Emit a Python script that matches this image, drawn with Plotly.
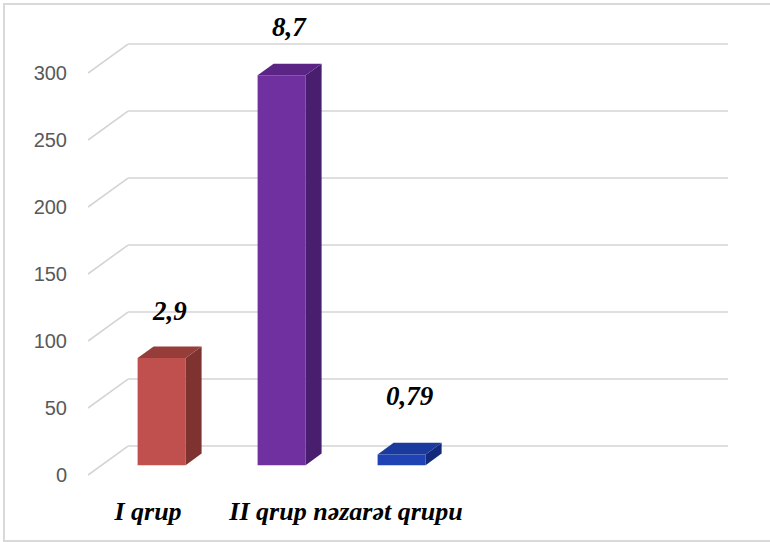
import plotly.graph_objects as go

# --- data ---
categories = ["I qrup", "II qrup", "nəzarət qrupu"]
values = [80, 291, 8]
value_labels = ["2,9", "8,7", "0,79"]
y_ticks = [0, 50, 100, 150, 200, 250, 300]
n_slots = 5

front_colors = ["#c0504d", "#7030a0", "#1f43b5"]
top_colors = ["#963d3a", "#5a2585", "#1a3a9e"]
side_colors = ["#7e3330", "#4a1e6e", "#13297a"]

SERIF = "Liberation Serif, Times New Roman, serif"

# --- pseudo-3D geometry (oblique projection) ---
OX = 1 / 3          # x shift of the back wall, in category units
OY = 21.6           # y shift of the back wall, in value units
D_FRONT = 0.34      # depth of the bar front faces
D_BAR = 0.40        # depth of each bar
BAR_W = 0.40
LABEL_SHIFT = [18, 20, 30]   # vertical offset (px) of the value labels

W, H = 770, 542
ML, MR, MT, MB = 88, 42, 20, 62
PX_PER_UNIT = 1.34
ZERO_PX = 475

fig = go.Figure()

# floor/back-wall gridlines: diagonal from the axis, then horizontal along the wall
for v in y_ticks:
    fig.add_shape(type="line", xref="x", yref="y", layer="below",
                  x0=-0.5, y0=v, x1=-0.5 + OX, y1=v + OY,
                  line=dict(color="#d4d4d4", width=1.6))
    fig.add_shape(type="line", xref="x", yref="y", layer="below",
                  x0=-0.5 + OX, y0=v + OY, x1=n_slots - 0.5 + OX, y1=v + OY,
                  line=dict(color="#d4d4d4", width=1.6))

base = D_FRONT * OY
bdx, bdy = D_BAR * OX, D_BAR * OY
for i, v in enumerate(values):
    xc = i + D_FRONT * OX
    xl, xr = xc - BAR_W / 2, xc + BAR_W / 2
    top = base + v
    # right side face
    fig.add_trace(go.Scatter(
        x=[xr, xr, xr + bdx, xr + bdx, xr],
        y=[base, top, top + bdy, base + bdy, base],
        fill="toself", fillcolor=side_colors[i], mode="lines",
        line=dict(width=0, color=side_colors[i]),
        hoverinfo="skip", showlegend=False))
    # top face
    fig.add_trace(go.Scatter(
        x=[xl, xr, xr + bdx, xl + bdx, xl],
        y=[top, top, top + bdy, top + bdy, top],
        fill="toself", fillcolor=top_colors[i], mode="lines",
        line=dict(width=0, color=top_colors[i]),
        hoverinfo="skip", showlegend=False))

# front faces
fig.add_trace(go.Bar(
    x=[i + D_FRONT * OX for i in range(len(values))],
    y=values, base=base, width=BAR_W,
    marker=dict(color=front_colors, line=dict(width=0)),
    showlegend=False, hoverinfo="skip"))

for i, v in enumerate(values):
    fig.add_annotation(
        x=i + D_FRONT * OX + bdx / 2, y=base + v + bdy,
        text=value_labels[i], showarrow=False,
        yanchor="bottom", yshift=LABEL_SHIFT[i],
        font=dict(family=SERIF, size=27, color="#000",
                  weight="bold", style="italic"))

plot_w = W - ML - MR
plot_h = H - MT - MB
y_lo = (ZERO_PX - (H - MB)) / PX_PER_UNIT
y_hi = (ZERO_PX - MT) / PX_PER_UNIT

fig.update_xaxes(range=[-0.5, n_slots - 0.5 + OX],
                 tickvals=list(range(len(categories))), ticktext=categories,
                 showgrid=False, zeroline=False, showline=False,
                 ticks="outside", ticklen=8, tickcolor="rgba(0,0,0,0)",
                 tickfont=dict(family=SERIF, size=26, color="#000",
                               weight="bold", style="italic"))
fig.update_yaxes(range=[y_lo, y_hi], tickvals=y_ticks,
                 showgrid=False, zeroline=False, showline=False,
                 ticks="outside", ticklen=16, tickcolor="rgba(0,0,0,0)",
                 tickfont=dict(family="Liberation Sans", size=20, color="#595959"))

# outer frame
fig.add_shape(type="rect", xref="paper", yref="paper",
              x0=(4 - ML) / plot_w, x1=(1000 - ML) / plot_w,
              y0=(H - MB - 541) / plot_h, y1=(H - MB - 4) / plot_h,
              line=dict(color="#d9d9d9", width=2), layer="below")

fig.update_layout(width=W, height=H,
                  margin=dict(l=ML, r=MR, t=MT, b=MB),
                  plot_bgcolor="white", paper_bgcolor="white",
                  showlegend=False)

fig.write_html("out.html")
